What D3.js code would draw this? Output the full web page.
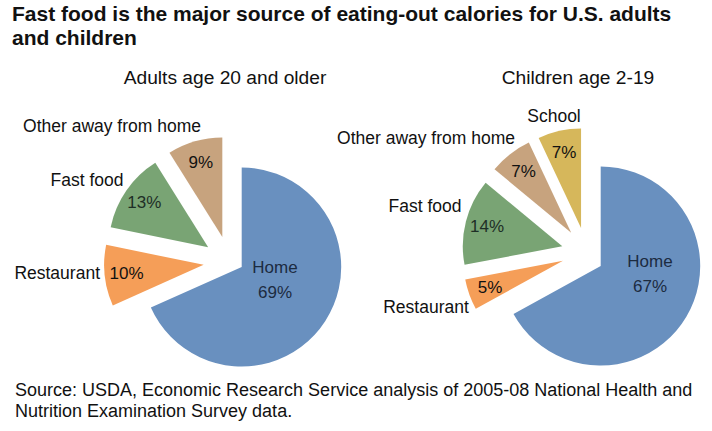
<!DOCTYPE html>
<html><head><meta charset="utf-8">
<script src="https://cdn.jsdelivr.net/npm/d3@7"></script>
<style>
html,body{margin:0;padding:0;background:#fff;}
text{font-family:"Liberation Sans",Arial,sans-serif;}
</style></head>
<body>
<svg id="chart" width="712" height="431"></svg>
<script>
// ---- data ----
const titleLines = ["Fast food is the major source of eating-out calories for U.S. adults", "and children"];
const sourceLines = ["Source: USDA, Economic Research Service analysis of 2005-08 National Health and", "Nutrition Examination Survey data."];
const adultTitle = "Adults age 20 and older";
const adultCategories = ["Home", "Restaurant", "Fast food", "Other away from home"];
const adultValues = [69, 10, 13, 9];
const childTitle = "Children age 2-19";
const childCategories = ["Home", "Restaurant", "Fast food", "Other away from home", "School"];
const childValues = [67, 5, 14, 7, 7];

// ---- styles / layout ----
const colors = {"Home":"#6990bf","Restaurant":"#f59e58","Fast food":"#79a474","Other away from home":"#c7a37e","School":"#d6b75b"};
const labelColor = {"Home":"#1c2b3f","Fast food":"#1e2e26"};
const charts = [
  {title: adultTitle, cats: adultCategories, vals: adultValues, cx: 229.5, cy: 262, titleX: 225, explode: 26,
   homeShift: {dx: 12.2, dy: 5}, homeLabel: {dx: 33.3, dy: 12.5},
   outer: {"Restaurant":{dx:-129.5,dy:11,anchor:"end"}, "Fast food":{dx:-142.5,dy:-82,anchor:"middle"}, "Other away from home":{dx:-117.5,dy:-136,anchor:"middle"}}},
  {title: childTitle, cats: childCategories, vals: childValues, cx: 586.5, cy: 252.4, titleX: 578, explode: 25,
   homeShift: {dx: 14.2, dy: 13.6}, homeLabel: {dx: 49.3, dy: 7.5},
   outer: {"Restaurant":{dx:-160.5,dy:54.6,anchor:"middle"}, "Fast food":{dx:-161.5,dy:-46.4,anchor:"middle"}, "Other away from home":{dx:-160.5,dy:-114.4,anchor:"middle"}, "School":{dx:-32.5,dy:-136.4,anchor:"middle"}}}
];
const R = 99.5;

const svg = d3.select("#chart");
svg.append("rect").attr("width",712).attr("height",431).attr("fill","#fff");

const title = svg.append("text").attr("x",12).attr("y",21)
  .attr("font-size",21).attr("font-weight","bold").attr("fill","#111");
titleLines.forEach((t,i)=>title.append("tspan").attr("x",12).attr("dy", i?24:0).text(t));

const src = svg.append("text").attr("x",15).attr("y",395.5)
  .attr("font-size",18).attr("fill","#111");
sourceLines.forEach((t,i)=>src.append("tspan").attr("x",15).attr("dy", i?21:0).text(t));

const pie = d3.pie().sort(null).value(d=>d.v).startAngle(0).endAngle(2*Math.PI);
const arc = d3.arc().innerRadius(0).outerRadius(R);

charts.forEach(ch=>{
  svg.append("text").attr("x",ch.titleX).attr("y",84).attr("text-anchor","middle")
    .attr("font-size",19.2).attr("fill","#111").text(ch.title);
  const data = ch.cats.map((c,i)=>({c, v: ch.vals[i]}));
  const arcs = pie(data);
  const g = svg.append("g").attr("transform",`translate(${ch.cx},${ch.cy})`);
  arcs.forEach(a=>{
    const mid = (a.startAngle + a.endAngle)/2;
    const isHome = a.data.c === "Home";
    const ox = isHome ? ch.homeShift.dx : ch.explode*Math.sin(mid);
    const oy = isHome ? ch.homeShift.dy : -ch.explode*Math.cos(mid);
    const sg = g.append("g").attr("transform",`translate(${ox},${oy})`);
    sg.append("path").attr("d", arc(a)).attr("fill", colors[a.data.c]);
    const col = labelColor[a.data.c] || "#111";
    if (isHome) {
      const lx = ch.homeLabel.dx, ly = ch.homeLabel.dy;
      const t = sg.append("text").attr("text-anchor","middle").attr("font-size",17).attr("fill",col);
      t.append("tspan").attr("x",lx).attr("y",ly-12.5).attr("dominant-baseline","central").text("Home");
      t.append("tspan").attr("x",lx).attr("y",ly+12.5).attr("dominant-baseline","central").text(a.data.v+"%");
    } else {
      const rr = R*0.78;
      sg.append("text").attr("x", rr*Math.sin(mid)).attr("y", -rr*Math.cos(mid))
        .attr("text-anchor","middle").attr("dominant-baseline","central")
        .attr("font-size",17).attr("fill",col).text(a.data.v+"%");
      const o = ch.outer[a.data.c];
      g.append("text").attr("x",o.dx).attr("y",o.dy).attr("text-anchor",o.anchor)
        .attr("dominant-baseline","central").attr("font-size",17.5).attr("fill","#111").text(a.data.c);
    }
  });
});
</script>
</body></html>
